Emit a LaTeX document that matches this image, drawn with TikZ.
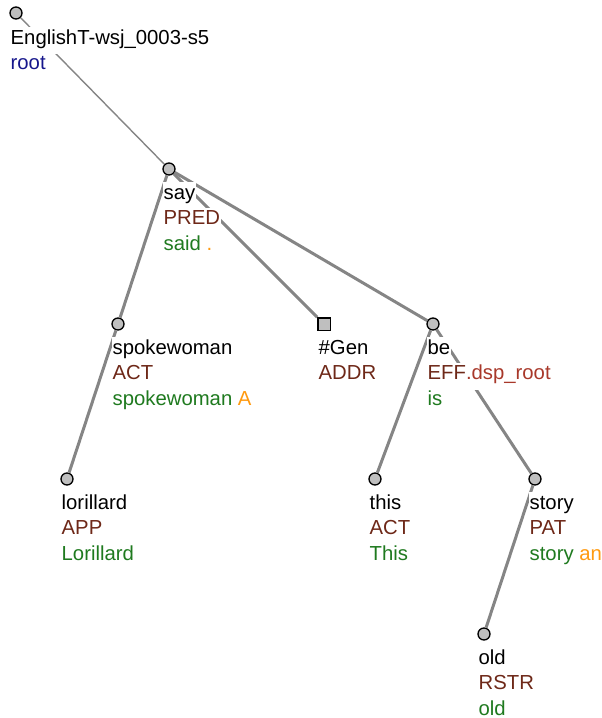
\documentclass[tikz,border=0pt]{standalone}
\usepackage{fontspec}
\setmainfont{Liberation Sans}
\usetikzlibrary{positioning}

\definecolor{fnccol}{HTML}{6E2818}
\definecolor{dspcol}{HTML}{A8382A}
\definecolor{wrdcol}{HTML}{1F7A1F}
\definecolor{auxcol}{HTML}{FF9A10}
\definecolor{rootcol}{HTML}{16168C}
\definecolor{edgecol}{HTML}{858585}

\tikzset{
	tnode/.style={circle, draw=black, line width=1.3pt, fill=black!25, minimum size=12pt, inner sep=0pt},
	gnode/.style={rectangle, draw=black, line width=1.3pt, fill=black!25, minimum size=12.3pt, inner sep=0pt},
	tedge/.style={draw=edgecol, line width=3pt},
	redge/.style={draw=edgecol, line width=1.4pt},
	lbl/.style={anchor=base west, fill=white, inner xsep=0.5pt, inner ysep=0pt, text height=17pt, text depth=10pt, font=\fontsize{20.3}{24}\selectfont}
}

\begin{document}
\begin{tikzpicture}[x=1pt, y=-1pt]
	\useasboundingbox (0,0) rectangle (602,718);

	% Tree nodes
	\node[tnode] (root) at (16,13) {};
	\node[tnode] (say) at (169,169) {};
	\node[tnode] (spokewoman) at (118,324) {};
	\node[gnode] (gen) at (324,324) {};
	\node[tnode] (be) at (433,324) {};
	\node[tnode] (lorillard) at (67,479) {};
	\node[tnode] (this) at (375,479) {};
	\node[tnode] (story) at (535,479) {};
	\node[tnode] (old) at (484,634) {};

	% Edges
	\draw[redge] (root) -- (say);
	\draw[tedge] (say) -- (spokewoman);
	\draw[tedge] (say) -- (gen);
	\draw[tedge] (say) -- (be);
	\draw[tedge] (spokewoman) -- (lorillard);
	\draw[tedge] (be) -- (this);
	\draw[tedge] (be) -- (story);
	\draw[tedge] (story) -- (old);

	% Labels
	%root
	\node[lbl] (root-t) at (10,44) {EnglishT-wsj\_0003-s5};
	\node[lbl] (root-f) at (10,69) {\color{rootcol}root};
	%say
	\node[lbl] (say-t) at (163,199) {say};
	\node[lbl] (say-f) at (163,224.5) {\color{fnccol}PRED};
	\node[lbl] (say-w) at (163,250) {\color{wrdcol}said \color{auxcol}.};
	%spokewoman
	\node[lbl] (spokewoman-t) at (112,354) {spokewoman};
	\node[lbl] (spokewoman-f) at (112,379.5) {\color{fnccol}ACT};
	\node[lbl] (spokewoman-w) at (112,405) {\color{wrdcol}spokewoman \color{auxcol}A};
	%gen
	\node[lbl] (gen-t) at (318,354) {\#Gen};
	\node[lbl] (gen-f) at (318,379.5) {\color{fnccol}ADDR};
	%be
	\node[lbl] (be-t) at (427,354) {be};
	\node[lbl] (be-f) at (427,379.5) {\color{fnccol}EFF\color{dspcol}.dsp\_root};
	\node[lbl] (be-w) at (427,405) {\color{wrdcol}is};
	%lorillard
	\node[lbl] (lorillard-t) at (61,509) {lorillard};
	\node[lbl] (lorillard-f) at (61,534.5) {\color{fnccol}APP};
	\node[lbl] (lorillard-w) at (61,560) {\color{wrdcol}Lorillard};
	%this
	\node[lbl] (this-t) at (369,509) {this};
	\node[lbl] (this-f) at (369,534.5) {\color{fnccol}ACT};
	\node[lbl] (this-w) at (369,560) {\color{wrdcol}This};
	%story
	\node[lbl] (story-t) at (529,509) {story};
	\node[lbl] (story-f) at (529,534.5) {\color{fnccol}PAT};
	\node[lbl] (story-w) at (529,560) {\color{wrdcol}story \color{auxcol}an};
	%old
	\node[lbl] (old-t) at (478,664) {old};
	\node[lbl] (old-f) at (478,689.5) {\color{fnccol}RSTR};
	\node[lbl] (old-w) at (478,715) {\color{wrdcol}old};

\end{tikzpicture}
\end{document}
